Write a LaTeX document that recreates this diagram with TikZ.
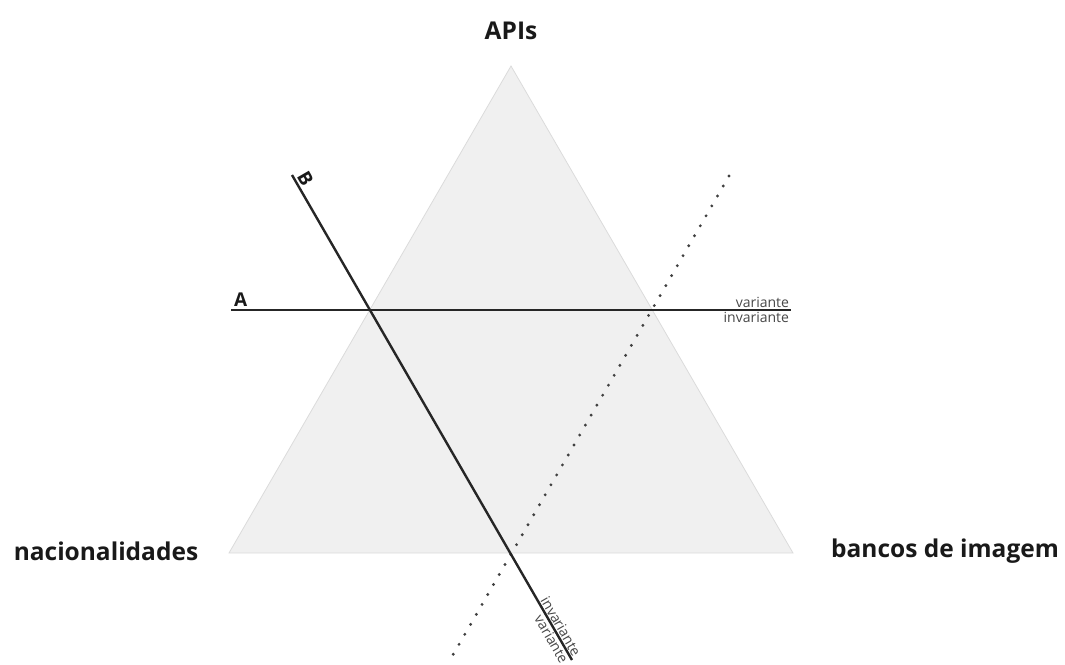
\documentclass[tikz,border=0pt]{standalone}
\usepackage{fontspec}
\setmainfont{Open Sans}
\begin{document}
\begin{tikzpicture}[x=1pt,y=-1pt,
  title/.style={font=\bfseries\fontsize{24.5}{26}\selectfont, text=black!90, inner sep=0pt},
  small/.style={font=\fontsize{14}{15}\selectfont, text=black!72, inner sep=0.8pt},
  axisline/.style={draw=black!85, line width=2.4pt},
  dotline/.style={draw=black!75, line width=3.2pt, line cap=round, dash pattern=on 0pt off 11.5pt},
  letter/.style={font=\bfseries\fontsize{19}{20}\selectfont, text=black!90, inner sep=2pt}]
\useasboundingbox (0,0) rectangle (1065,664);
\coordinate (T) at (511,66);
\coordinate (L) at (229,553);
\coordinate (R) at (793,553);
\fill[black!6] (T) -- (L) -- (R) -- cycle;
\draw[black!14, line width=0.8pt] (T) -- (L) -- (R) -- cycle;
% titles
\node[title] (apis) at (511,31) {APIs};
\node[title] (nac) at (106,551) {nacionalidades};
\node[title] (ban) at (945,551) {bancos de imagem};
% dotted line
\coordinate (D1) at (729,176);
\coordinate (D2) at (450,660);
\draw[dotline] (D1) -- (D2);
% line A
\coordinate (A1) at (231,310);
\coordinate (A2) at (791,310);
\draw[axisline] (A1) -- (A2)
  node[pos=0, letter, anchor=south west] (la) {A}
  node[pos=1, small, anchor=south east] (va) {variante}
  node[pos=1, small, anchor=north east] (ia) {invariante};
% line B
\coordinate (B1) at (292,175);
\coordinate (B2) at (572,660);
\draw[axisline] (B1) -- (B2)
  node[pos=0, sloped, letter, anchor=south west] (lb) {B}
  node[pos=1, sloped, small, anchor=south east] (ib) {invariante}
  node[pos=1, sloped, small, anchor=north east] (vb) {variante};
\end{tikzpicture}
\end{document}
